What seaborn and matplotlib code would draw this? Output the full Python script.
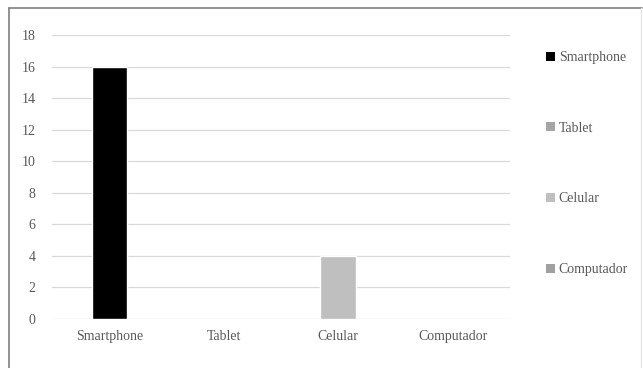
import pandas as pd
import numpy as np
import matplotlib.pyplot as plt
import seaborn as sns
from matplotlib.lines import Line2D
from matplotlib.patches import Patch

# dados do grafico
categorias = ['Smartphone', 'Tablet', 'Celular', 'Computador']
quantidade = [16, 0, 4, 0]
cores = ['#000000', '#a5a5a5', '#bfbfbf', '#a0a0a0']
yticks = [0, 2, 4, 6, 8, 10, 12, 14, 16, 18]

df = pd.DataFrame({'Dispositivo': categorias, 'Qtd': quantidade})

sns.set_style('white')
plt.rcParams['font.family'] = ['Liberation Serif', 'DejaVu Serif']
texto = '#595959'

fig = plt.figure(figsize=(6.43, 3.68), dpi=100)
ax = fig.add_axes([0.081, 0.133, 0.712, 0.772])

sns.barplot(data=df, x='Dispositivo', y='Qtd', hue='Dispositivo',
            palette=cores, dodge=False, width=0.31, legend=False, ax=ax,
            saturation=1, zorder=3)

ax.set_ylim(0, 18)
ax.set_yticks(yticks)
ax.set_xlim(-0.5, 3.5)
ax.grid(axis='y', color='#d9d9d9', linewidth=0.9, zorder=0)
ax.set_axisbelow(True)
sns.despine(ax=ax, left=True, bottom=True)
ax.tick_params(axis='both', length=0, labelsize=10, colors=texto, pad=8)
ax.tick_params(axis='y', pad=12)
ax.set_xlabel('')
ax.set_ylabel('')

# legenda a direita
handles = [Patch(facecolor=c, edgecolor='none') for c in cores]
leg = fig.legend(handles, categorias, loc='upper left',
                 bbox_to_anchor=(0.83, 0.895), frameon=False,
                 fontsize=10, labelspacing=4.15, handlelength=0.6,
                 handleheight=0.6, handletextpad=0.3, labelcolor=texto)

# moldura da figura
fig.add_artist(Line2D([0.014, 0.014], [0.0, 0.978], color='#7f7f7f', linewidth=1.2,
                      transform=fig.transFigure))
fig.add_artist(Line2D([0.014, 0.998], [0.978, 0.978], color='#7f7f7f', linewidth=1.2,
                      transform=fig.transFigure))
fig.add_artist(Line2D([0.997, 0.997], [0.0, 0.978], color='#e6e6e6', linewidth=1.0,
                      transform=fig.transFigure))

plt.savefig('out.png', dpi=100)
